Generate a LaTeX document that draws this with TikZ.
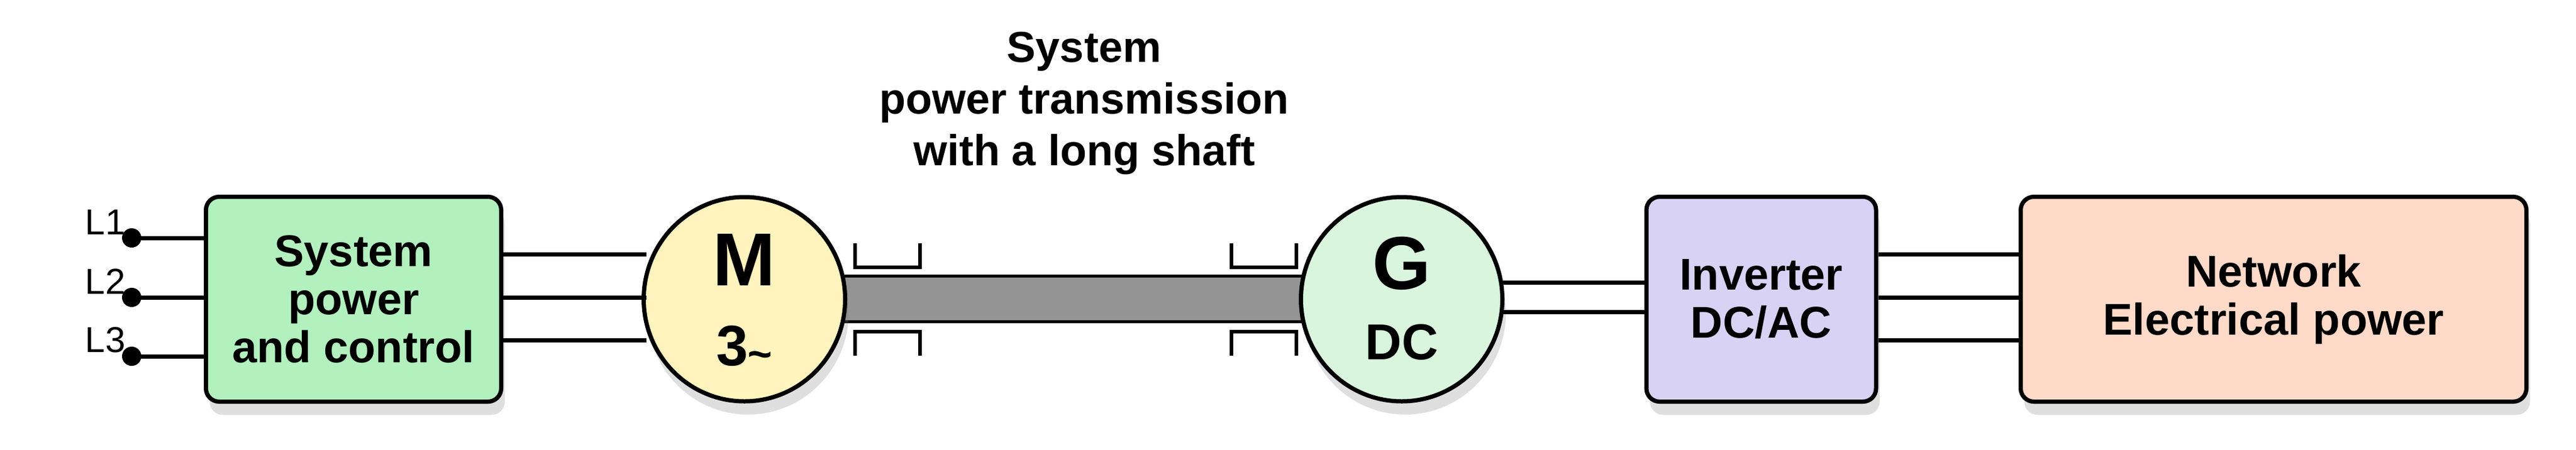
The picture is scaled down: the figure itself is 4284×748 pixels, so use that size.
\documentclass[tikz,border=0pt]{standalone}
\usepackage{fontspec}
\setmainfont{Liberation Sans}
\usetikzlibrary{shapes,shadows}
\tikzstyle{block} = [rectangle, draw, line width=7pt, rounded corners=22pt,
    font=\fontsize{74}{80}\selectfont\bfseries, align=center,
    drop shadow={shadow xshift=6pt, shadow yshift=-22pt, opacity=0.25}]
\tikzstyle{machine} = [ellipse, draw, line width=7pt, minimum width=335pt, minimum height=340pt,
    inner sep=0pt, drop shadow={shadow xshift=6pt, shadow yshift=-22pt, opacity=0.25}]
\tikzstyle{wire} = [draw, line width=7pt]
\tikzstyle{bearing} = [draw, line width=6pt]
\definecolor{supplyfill}{RGB}{178,240,190}
\definecolor{motorfill}{RGB}{255,243,190}
\definecolor{genfill}{RGB}{218,245,222}
\definecolor{invfill}{RGB}{216,210,245}
\definecolor{netfill}{RGB}{255,218,200}

\begin{document}
\begin{tikzpicture}[x=1pt, y=-1pt]
    \useasboundingbox (0,0) rectangle (4284,748);
    % Title
    \node [font=\fontsize{72}{86}\selectfont\bfseries, align=center] (title) at (1803,172)
        {System\\power transmission\\with a long shaft};
    % Shaft and bearings
    \path [draw, line width=5pt, fill=black!42] (1400,459) rectangle (2180,535);
    \foreach \bx in {1422,2048} {
        \path [bearing] (\bx,405) -- (\bx,445) -- (\bx+108,445) -- (\bx+108,405);
        \path [bearing] (\bx,592) -- (\bx,552) -- (\bx+108,552) -- (\bx+108,592);
    }
    % Place nodes
    \node [block, fill=supplyfill, minimum width=491pt, minimum height=341pt] (supply) at (588,498)
        {System\\power\\and control};
    \node [machine, fill=motorfill] (motor) at (1238,498) {};
    \node [font=\fontsize{125}{125}\selectfont\bfseries] (mletter) at (1238,432) {M};
    \node [font=\fontsize{95}{95}\selectfont\bfseries] (mphase) at (1238,578) {3\raisebox{-5pt}{\fontsize{70}{70}\selectfont\char`~}};
    \node [machine, fill=genfill] (gen) at (2331,498) {};
    \node [font=\fontsize{125}{125}\selectfont\bfseries] (gletter) at (2331,438) {G};
    \node [font=\fontsize{84}{84}\selectfont\bfseries] (gtype) at (2331,570) {DC};
    \node [block, fill=invfill, minimum width=382pt, minimum height=341pt] (inv) at (2929,498)
        {Inverter\\DC/AC};
    \node [block, fill=netfill, minimum width=841pt, minimum height=341pt] (net) at (3781,498)
        {Network\\Electrical power};
    % Draw edges
    \foreach \n/\y in {1/396,2/495,3/593} {
        \coordinate (l\n) at (219,\y);
        \fill (l\n) circle (16pt);
        \node [font=\fontsize{60}{60}\selectfont, anchor=south east] at (212,\y-2) {L\n};
        \path [wire] (l\n) -- (supply.west |- l\n);
    }
    \foreach \y in {423,495,566} {
        \path [wire] (supply.east |- 0,\y) -- ([xshift=8pt]motor.west |- 0,\y);
        \path [wire] (inv.east |- 0,\y) -- (net.west |- 0,\y);
    }
    \foreach \y in {470,519} {
        \path [wire] ([xshift=-4pt]gen.east |- 0,\y) -- (inv.west |- 0,\y);
    }
\end{tikzpicture}
\end{document}
